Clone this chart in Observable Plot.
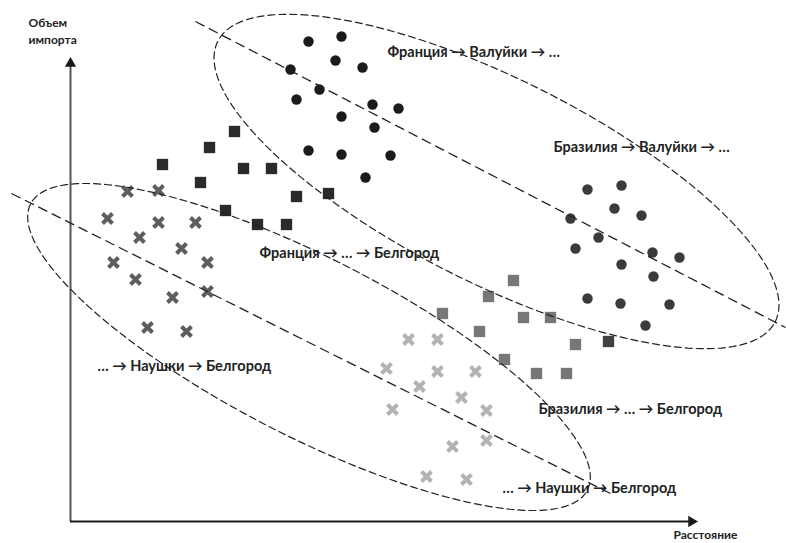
<!DOCTYPE html>
<html><head><meta charset="utf-8">
<script src="https://cdn.jsdelivr.net/npm/d3@7"></script>
<script src="https://cdn.jsdelivr.net/npm/@observablehq/plot@0.6"></script>
<style>html,body{margin:0;padding:0;background:#fff;overflow:hidden} svg{display:block}</style>
</head><body><div id="chart"></div><script>
// Schematic coordinates: x = distance, y = import volume (arbitrary units)
const franceValuykiCircles = [[238,480],[271,485],[265,461],[292,454],[220,452],[249,432],[226,422],[302,417],[328,413],[271,405],[304,394],[238,371],[271,367],[320,366],[295,344]];
const brazilValuykiCircles = [[517,332],[551,336],[544,313],[571,306],[500,303],[528,284],[505,273],[582,269],[609,264],[551,257],[583,245],[517,223],[550,218],[599,217],[575,196]];
const franceBelgorodSquares = [[164,390],[139,374],[92,357],[173,353],[201,353],[130,339],[226,325],[258,328],[155,311],[187,297],[216,297]];
const brazilBelgorodSquares = [[443,241],[418,225],[372,208],[453,204],[480,204],[409,190],[505,177],[434,162],[466,148],[496,148]];
const brazilBelgorodOutlier = [[538,180]];
const naushkiNearCrosses = [[57,330],[88,331],[37,303],[88,299],[125,299],[69,284],[111,273],[43,259],[137,259],[65,242],[102,224],[137,230],[77,194],[116,190]];
const naushkiFarCrosses = [[338,182],[367,182],[316,153],[367,150],[405,150],[349,135],[391,124],[322,112],[416,111],[382,75],[416,81],[356,45],[396,42]];

const trendLines = [
  {id: "valuyki", x1: 125, y1: 500, x2: 715, y2: 194},
  {id: "belgorod", x1: -59, y1: 328, x2: 540, y2: 28}
];
const ellipses = [
  {id: "valuyki", cx: 426, cy: 340, a: 312, b: 102, angle: -26.7},
  {id: "belgorod", cx: 238.5, cy: 174.5, a: 313, b: 89, angle: -27.2}
];
const labels = [
  {x: 317, y: 469, text: "Франция → Валуйки → …"},
  {x: 483, y: 374, text: "Бразилия → Валуйки → …"},
  {x: 189, y: 268, text: "Франция → … → Белгород"},
  {x: 27, y: 155, text: "… → Наушки → Белгород"},
  {x: 468, y: 112, text: "Бразилия → … → Белгород"},
  {x: 432, y: 33, text: "… → Наушки → Белгород"}
];
const axisTitles = [
  {x: -42, y: 498, text: "Объем"},
  {x: -42, y: 481, text: "импорта"},
  {x: 603, y: -14, text: "Расстояние"}
];
const yAxisTop = 458, xAxisEnd = 621;

const pts = (arr) => arr.map(([x, y]) => ({x, y}));
const ellipseOutline = ellipses.flatMap(e => {
  const c = Math.cos(e.angle * Math.PI / 180), s = Math.sin(e.angle * Math.PI / 180);
  return d3.range(0, 361, 2).map(deg => {
    const t = deg * Math.PI / 180, u = e.a * Math.cos(t), v = e.b * Math.sin(t);
    return {id: e.id, x: e.cx + u * c - v * s, y: e.cy + u * s + v * c};
  });
});

const font = "Lato, 'Open Sans', sans-serif";
const chart = Plot.plot({
  width: 786, height: 543,
  marginTop: 0, marginRight: 0, marginBottom: 0, marginLeft: 0,
  x: {domain: [-70, 716], axis: null},
  y: {domain: [-22, 521], axis: null},
  style: {background: "#fff", fontFamily: font},
  marks: [
    Plot.ruleX([0], {y1: 0, y2: yAxisTop, stroke: "#555", strokeWidth: 2}),
    Plot.ruleY([0], {x1: 0, x2: xAxisEnd, stroke: "#1a1a1a", strokeWidth: 2}),
    Plot.dot([{x: 0, y: yAxisTop}], {x: "x", y: "y", symbol: "triangle", r: 4.2, fill: "#1a1a1a"}),
    Plot.dot([{x: xAxisEnd, y: 0}], {x: "x", y: "y", symbol: "triangle", r: 4.2, fill: "#1a1a1a", rotate: 90}),
    Plot.dot(pts(franceValuykiCircles), {x: "x", y: "y", r: 5.2, fill: "#1b1b1b"}),
    Plot.dot(pts(brazilValuykiCircles), {x: "x", y: "y", r: 5.2, fill: "#3b3b3b"}),
    Plot.dot(pts(franceBelgorodSquares), {x: "x", y: "y", symbol: "square", r: 6.4, fill: "#2a2a2a"}),
    Plot.dot(pts(brazilBelgorodSquares), {x: "x", y: "y", symbol: "square", r: 6.4, fill: "#777"}),
    Plot.dot(pts(brazilBelgorodOutlier), {x: "x", y: "y", symbol: "square", r: 6.4, fill: "#404040"}),
    Plot.dot(pts(naushkiNearCrosses), {x: "x", y: "y", symbol: "times", r: 4.6, stroke: "#5e5e5e", strokeWidth: 4}),
    Plot.dot(pts(naushkiFarCrosses), {x: "x", y: "y", symbol: "times", r: 4.6, stroke: "#b3b3b3", strokeWidth: 4}),
    Plot.line(ellipseOutline, {x: "x", y: "y", z: "id", stroke: "#222", strokeWidth: 1.2, strokeDasharray: "7,4"}),
    Plot.link(trendLines, {x1: "x1", y1: "y1", x2: "x2", y2: "y2", stroke: "#222", strokeWidth: 1.3, strokeDasharray: "10,5"}),
    Plot.text(labels, {x: "x", y: "y", text: "text", textAnchor: "start", fontSize: 14.5, fontWeight: "bold", fill: "#222"}),
    Plot.text(axisTitles, {x: "x", y: "y", text: "text", textAnchor: "start", fontSize: 12, fontWeight: "bold", fill: "#222"})
  ]
});
document.getElementById("chart").append(chart);
</script></body></html>
